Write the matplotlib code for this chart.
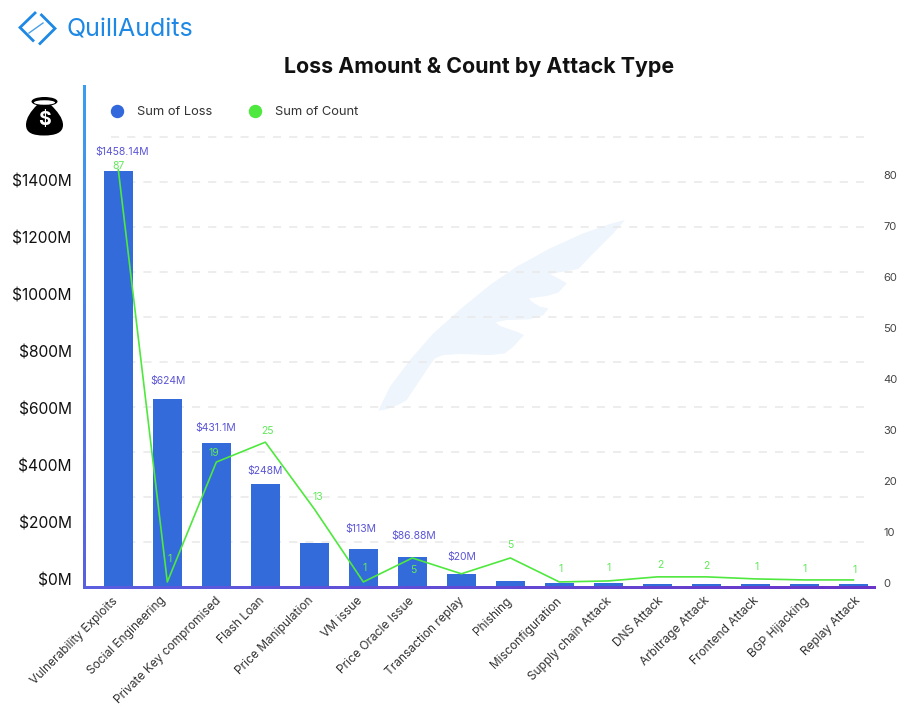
import numpy as np
import matplotlib
matplotlib.use("Agg")
import matplotlib.pyplot as plt
from matplotlib.lines import Line2D
from matplotlib.path import Path
from matplotlib.patches import PathPatch, Polygon, Ellipse
from matplotlib.colors import LinearSegmentedColormap
from matplotlib.transforms import ScaledTranslation

plt.rcParams['font.family'] = ['Inter', 'DejaVu Sans']

W, H = 924, 727

attack_types = ["Vulnerability Exploits", "Social Engineering", "Private Key compromised", "Flash Loan",
                "Price Manipulation", "VM issue", "Price Oracle Issue", "Transaction replay", "Phishing",
                "Misconfiguration", "Supply chain Attack", "DNS Attack", "Arbitrage Attack", "Frontend Attack",
                "BGP Hijacking", "Replay Attack"]
# bar heights as drawn in the picture, in $M
loss = [1458, 658, 502, 361, 154, 130, 102, 44, 21, 12, 12, 9, 9, 9, 9, 9]
loss_labels = ["$1458.14M", "$624M", "$431.1M", "$248M", "", "$113M", "$86.88M", "$20M",
               "", "", "", "", "", "", "", ""]
# line heights as drawn in the picture
count = [81, 0.2, 23.7, 27.6, 14.5, 0.2, 4.9, 1.8, 4.9, 0.2, 0.4, 1.2, 1.2, 0.8, 0.6, 0.6]
count_labels = ["87", "1", "19", "25", "13", "1", "5", "", "5", "1", "1", "2", "2", "1", "1", "1"]

left_ticks = [0, 200, 400, 600, 800, 1000, 1200, 1400]
right_ticks = [0, 10, 20, 30, 40, 50, 60, 70, 80]
grid_step = 157.9
grid_count = 11

# label offsets from the mark, in pixels
loss_offsets = [(4, 19), (1, 18), (-1, 15), (0, 13), (0, 0), (-3, 20), (1, 21), (0, 17),
                (0, 0), (0, 0), (0, 0), (0, 0), (0, 0), (0, 0), (0, 0), (0, 0)]
count_offsets = [(0, 4), (2, 22.5), (-3, 9), (2, 11), (3, 12), (1, 13.5), (1, -12.5), (0, 0),
                 (0, 13), (1, 12.5), (0, 12.5), (3, 11.5), (0, 10.5), (1, 11.5), (0.5, 10.5), (1, 9.5)]
xlabel_shifts = [-7, -8, -1, -7, -7, -7, -4, -3, -5, -4, -3, 0, -3, -3, -2, 1]

BLUE = "#336BDB"
GREEN = "#4FE83E"
px = 0.72  # points per pixel at dpi 100

fig = plt.figure(figsize=(W / 100, H / 100), dpi=100, facecolor="white")


def rect(x0, y0, x1, y1):
    # pixel box (y from the top) to figure fractions
    return [x0 / W, 1 - y1 / H, (x1 - x0) / W, (y1 - y0) / H]


# background layer in pixel coordinates: watermark, logo and money bag
bg = fig.add_axes([0, 0, 1, 1], zorder=0)
bg.set_xlim(0, W)
bg.set_ylim(H, 0)
bg.axis("off")

feather = np.array([(825, 60), (780, 72), (700, 100), (600, 145), (500, 200), (420, 255), (340, 320), (250, 400),
                    (180, 480), (120, 560), (85, 632), (110, 628), (150, 612), (170, 600), (190, 570), (240, 495),
                    (255, 475), (280, 465), (330, 462), (420, 465), (465, 460), (490, 440), (522, 405), (500, 395),
                    (450, 378), (437, 367), (470, 360), (540, 358), (580, 345), (595, 325), (570, 320), (545, 305),
                    (537, 295), (590, 288), (625, 278), (650, 250), (630, 238), (600, 222), (640, 215), (685, 207),
                    (730, 160), (790, 100)], dtype=float)
feather = feather / 3 + [350, 200]
bg.add_patch(Polygon(feather, closed=True, facecolor="#EEF5FD", edgecolor="none"))

# logo
logo_blue = "#1E88E5"
bg.plot([35, 20, 33], [13, 27.5, 40.5], color=logo_blue, lw=2, solid_joinstyle="miter")
bg.plot([40, 55, 41.5], [43.5, 28.5, 15], color=logo_blue, lw=2, solid_joinstyle="miter")
bg.plot([29, 43], [33, 23], color=logo_blue, lw=1, alpha=0.8)
bg.text(67, 30.5, "QuillAudits", color=logo_blue, fontsize=18, va="center", ha="left")

# money bag
bag = Path([(37, 105), (31, 111), (26, 118), (26, 125), (26, 133), (33, 135.5), (44, 135.5),
            (55, 135.5), (63, 133), (63, 125), (63, 118), (57, 111), (51, 105), (37, 105)],
           [Path.MOVETO, Path.CURVE4, Path.CURVE4, Path.CURVE4, Path.CURVE4, Path.CURVE4, Path.CURVE4,
            Path.CURVE4, Path.CURVE4, Path.CURVE4, Path.CURVE4, Path.CURVE4, Path.CURVE4, Path.CLOSEPOLY])
bg.add_patch(PathPatch(bag, facecolor="black", edgecolor="none"))
bg.add_patch(Ellipse((44.5, 101.5), 26, 9, facecolor="black", edgecolor="none"))
bg.add_patch(Ellipse((44.5, 102.5), 21, 4.5, facecolor="white", edgecolor="none"))
bg.text(44.5, 120, "$", color="white", fontsize=14, fontweight="bold", ha="center", va="center")

# main chart
ax = fig.add_axes(rect(84, 85, 875, 586.5), zorder=2)
ax.patch.set_alpha(0)
x = np.arange(len(attack_types))
ax.set_xlim(-0.70, 15.44)
ax.set_ylim(0, 1760)

ax.hlines(np.arange(grid_count) * grid_step, -0.14, 15.3, color="#E8E8E8", lw=1.1,
          linestyle=(0, (5.3, 5.3)), zorder=1)
ax.bar(x, loss, width=0.59, color=BLUE, zorder=2)

for i, lab in enumerate(loss_labels):
    if lab:
        ax.annotate(lab, (x[i], loss[i]), xytext=(loss_offsets[i][0] * px, loss_offsets[i][1] * px),
                    textcoords="offset points", ha="center", va="center", color="#5B55D6", fontsize=7.5, zorder=6)

ax.set_xticks(x)
ax.set_xticklabels(attack_types, rotation=45, ha="right", rotation_mode="anchor", fontsize=8.6, color="#333333")
ax.tick_params(axis="x", length=0, pad=6)
for t, shift in zip(ax.get_xticklabels(), xlabel_shifts):
    t.set_transform(t.get_transform() + ScaledTranslation(shift / 100, 0, fig.dpi_scale_trans))
ax.set_yticks(left_ticks)
ax.set_yticklabels([f"${v}M" for v in left_ticks], fontsize=11.2, color="#111111")
ax.tick_params(axis="y", length=0, pad=9)
# left labels sit 7 px above their tick value in the reference
lift = ScaledTranslation(0, 7 / 100, fig.dpi_scale_trans)
for t in ax.get_yticklabels():
    t.set_transform(t.get_transform() + lift)
for s in ax.spines.values():
    s.set_visible(False)

ax2 = ax.twinx()
ax2.patch.set_alpha(0)
ax2.set_ylim(-0.69, 97.6)
ax2.plot(x, count, color=GREEN, lw=1.2, zorder=5)
for i, lab in enumerate(count_labels):
    if lab:
        ax2.annotate(lab, (x[i], count[i]), xytext=(count_offsets[i][0] * px, count_offsets[i][1] * px),
                     textcoords="offset points", ha="center", va="center", color="#62E85A", fontsize=7.5)
ax2.set_yticks(right_ticks)
ax2.tick_params(axis="y", length=0, pad=6, labelsize=8, labelcolor="#444444")
for s in ax2.spines.values():
    s.set_visible(False)

# gradient axis lines
cm_left = LinearSegmentedColormap.from_list("left", ["#3A9FF0", "#5A5FE0"])
cm_bottom = LinearSegmentedColormap.from_list("bottom", ["#5A5FE0", "#6A35C8"])
left_line = fig.add_axes(rect(82.5, 85, 85.5, 588.5), zorder=3)
left_line.imshow(np.linspace(0, 1, 256)[:, None], cmap=cm_left, aspect="auto")
left_line.axis("off")
bottom_line = fig.add_axes(rect(82.5, 585.5, 875, 588.5), zorder=3)
bottom_line.imshow(np.linspace(0, 1, 256)[None, :], cmap=cm_bottom, aspect="auto")
bottom_line.axis("off")

# legend
handles = [Line2D([], [], linestyle="none", marker="o", markersize=12 * px, color="#3268DC"),
           Line2D([], [], linestyle="none", marker="o", markersize=12 * px, color=GREEN)]
fig.legend(handles, ["Sum of Loss", "Sum of Count"], ncol=2, frameon=False, fontsize=9.3, labelcolor="#333333",
           loc="center left", bbox_to_anchor=(104.4 / W, 1 - 112 / H), borderpad=0, borderaxespad=0,
           handlelength=2, handletextpad=0.55, columnspacing=2.3)

fig.text(479 / W, 1 - 67 / H, "Loss Amount & Count by Attack Type", fontsize=15.4, fontweight="bold",
         color="#111111", ha="center", va="center")

fig.savefig("out.png", dpi=100)
